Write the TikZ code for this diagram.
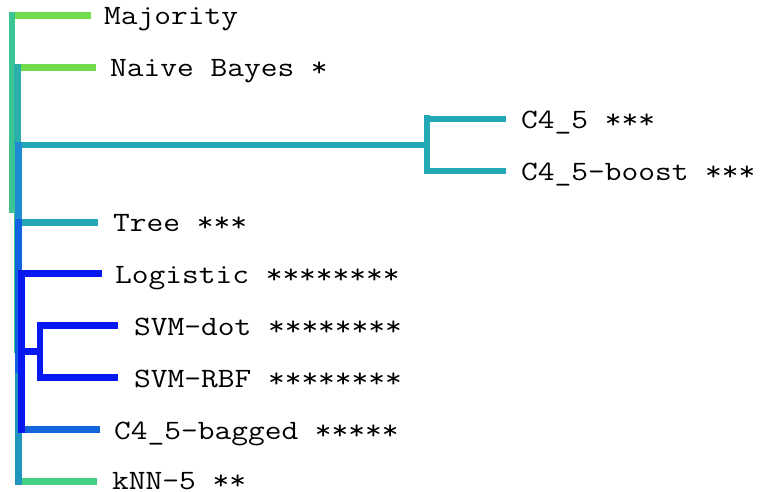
\documentclass[tikz,border=0pt]{standalone}
\usepackage{fontspec}
\definecolor{cRoot}{HTML}{3CC494}
\definecolor{cLime}{HTML}{70DC4E}
\definecolor{cTeal}{HTML}{2AB0A8}
\definecolor{cTealB}{HTML}{24A8B6}
\definecolor{cSky}{HTML}{1E8CD2}
\definecolor{cSea}{HTML}{2096BE}
\definecolor{cMid}{HTML}{1060E0}
\definecolor{cBlue}{HTML}{0818F0}
\definecolor{cBag}{HTML}{1464DC}
\definecolor{cMint}{HTML}{44D084}
\begin{document}
\begin{tikzpicture}[x=1pt,y=-1pt,
  branch/.style={line width=6.8pt},
  lbl/.style={anchor=base west, inner sep=0pt, text=black, text depth=0pt,
    xscale=1.16, font=\ttfamily\fontsize{28}{28}\selectfont}]
\useasboundingbox (0,0) rectangle (764,492);

% junction coordinates
\coordinate (r0) at (12,12);     \coordinate (r1) at (12,213);
\coordinate (a0) at (17.5,64);   \coordinate (a1) at (17.5,145);
\coordinate (a2) at (17.5,353);
\coordinate (b0) at (18.5,142);  \coordinate (b1) at (18.5,219);
\coordinate (b2) at (18.5,373);  \coordinate (b3) at (18.5,484.5);
\coordinate (p0) at (21.5,270);  \coordinate (p1) at (21.5,432.5);
\coordinate (s0) at (40,322);    \coordinate (s1) at (40,381);
\coordinate (sj) at (40,351.5);  \coordinate (pj) at (21.5,351.5);
\coordinate (c0) at (427,115.5); \coordinate (c1) at (427,174.5);
\coordinate (cj) at (427,145);

% vertical links
\draw[branch,cRoot] (r0) -- (r1);
\draw[branch,cRoot] (a1) -- (a2);
\draw[branch,cTeal] (a0) -- (a1);
\draw[branch,cSea]  (b0) -- (b3);
\draw[branch,cSky]  (b0) -- (b1);
\draw[branch,cMid]  (b1) -- (b2);
\draw[branch,cBlue] (p0) -- (p1);
\draw[branch,cBlue] (pj) -- (sj);
\draw[branch,cBlue] (s0) -- (s1);
\draw[branch,cTealB] (c0) -- (c1);

% labels
\node[lbl] (maj)  at (104,25)    {Majority};
\node[lbl] (nb)   at (110,77)    {Naive Bayes *};
\node[lbl] (c45)  at (521,128.5) {C4\_5 ***};
\node[lbl] (c45b) at (521,180.5) {C4\_5-boost ***};
\node[lbl] (tree) at (113,232)   {Tree ***};
\node[lbl] (log)  at (115,283.5) {Logistic ********};
\node[lbl] (svd)  at (134,335)   {SVM-dot ********};
\node[lbl] (svr)  at (134,387)   {SVM-RBF ********};
\node[lbl] (bag)  at (114,439)   {C4\_5-bagged *****};
\node[lbl] (knn)  at (112,489)   {kNN-5 **};

% horizontal links to leaves
\draw[branch,cLime]  (15.3,15.5)  -- (91,15.5);
\draw[branch,cLime]  (21,67.5)    -- (96,67.5);
\draw[branch,cTealB] (22,145)     -- (cj);
\draw[branch,cTealB] (430.4,119)  -- (506,119);
\draw[branch,cTealB] (430.4,171)  -- (506,171);
\draw[branch,cTealB] (22,222.5)   -- (97.5,222.5);
\draw[branch,cBlue]  (25,273.5)   -- (101.5,273.5);
\draw[branch,cBlue]  (43.4,325.5) -- (118.3,325.5);
\draw[branch,cBlue]  (43.4,377.5) -- (118.3,377.5);
\draw[branch,cBag]   (25,429.5)   -- (100,429.5);
\draw[branch,cMint]  (22,481.5)   -- (97.3,481.5);
\end{tikzpicture}
\end{document}
